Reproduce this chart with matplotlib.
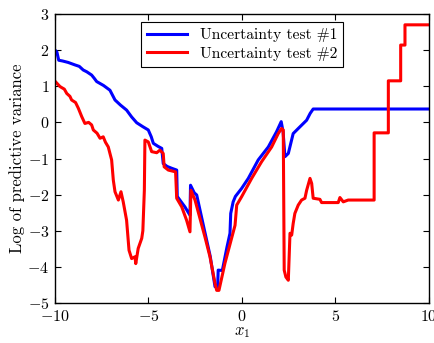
import matplotlib
matplotlib.use("Agg")
import matplotlib.pyplot as plt

plt.rcParams['font.family'] = 'serif'
plt.rcParams['font.serif'] = ['cmr10']
plt.rcParams['mathtext.fontset'] = 'cm'
plt.rcParams['axes.formatter.use_mathtext'] = True
plt.rcParams['axes.unicode_minus'] = True

# test #1: x1 and log predictive variance
x_test1 = [-10, -9.9, -9.8, -9.6, -9.3, -8.93, -8.7, -8.49, -8.3, -8.04, -7.9,
           -7.77, -7.4, -7.06, -6.79, -6.5, -6.17, -5.9, -5.63, -5.3, -5.01,
           -4.85, -4.74, -4.5, -4.29, -4.21, -4.0, -3.76, -3.49, -3.46, -3.25,
           -3.05, -2.78, -2.75, -2.55, -2.42, -2.34, -2.0, -1.7, -1.44, -1.30,
           -1.27, -1.05, -0.8, -0.64, -0.6, -0.47, -0.35, -0.02, 0.34, 0.87,
           1.41, 1.85, 2.10, 2.2, 2.3, 2.48, 2.74, 3.01, 3.46, 3.65,
           3.81, 10]
v_test1 = [2.0, 1.95, 1.72, 1.70, 1.66, 1.59, 1.55, 1.45, 1.40, 1.31, 1.22,
           1.13, 1.02, 0.89, 0.62, 0.48, 0.34, 0.15, -0.01, -0.12, -0.21,
           -0.4, -0.58, -0.66, -0.72, -1.14, -1.22, -1.27, -1.32, -2.05, -2.2,
           -2.34, -2.57, -1.74, -1.95, -2.01, -2.2, -3.0, -3.7, -4.55, -4.55,
           -4.09, -4.1, -3.45, -3.07, -2.52, -2.2, -2.05, -1.83, -1.55, -1.04,
           -0.68, -0.26, 0.02, -0.26, -0.95, -0.86, -0.31, -0.17, 0.06, 0.25,
           0.37, 0.37]

# test #2
x_test2 = [-10, -9.73, -9.5, -9.37, -9.2, -9.11, -8.9, -8.75, -8.57, -8.4, -8.2,
           -8.04, -7.95, -7.75, -7.59, -7.42, -7.3, -7.15, -6.97, -6.88, -6.79,
           -6.61, -6.47, -6.35, -6.17, -6.04, -5.9, -5.72, -5.68, -5.55, -5.36,
           -5.3, -5.22, -5.19, -5.01, -4.83, -4.56, -4.39, -4.21, -4.16, -3.94,
           -3.55, -3.49, -3.22, -2.96, -2.78, -2.73, -2.51, -1.98, -1.71, -1.44,
           -1.35, -1.23, -0.91, -0.37, -0.28, -0.02, 0.52, 1.05, 1.59, 1.94,
           2.12, 2.21, 2.26, 2.35, 2.48, 2.57, 2.66, 2.74, 2.83, 3.01,
           3.19, 3.37, 3.46, 3.64, 3.73, 3.81, 4.17, 4.26, 5.15, 5.24,
           5.42, 5.68, 7.07, 7.07, 7.83, 7.83, 8.49, 8.49, 8.72, 8.72, 10]
v_test2 = [1.14, 0.99, 0.92, 0.80, 0.72, 0.62, 0.55, 0.39, 0.16, -0.03, 0.0,
           -0.07, -0.21, -0.3, -0.44, -0.40, -0.55, -0.68, -1.04, -1.6, -1.92,
           -2.15, -1.92, -2.2, -2.71, -3.54, -3.77, -3.72, -3.91, -3.49, -3.21,
           -3.0, -1.88, -0.49, -0.54, -0.81, -0.84, -0.77, -0.86, -1.23, -1.32,
           -1.37, -2.1, -2.34, -2.71, -3.03, -1.88, -2.15, -3.17, -3.72, -4.46,
           -4.65, -4.65, -3.9, -2.85, -2.29, -2.06, -1.55, -1.09, -0.68, -0.31,
           -0.17, -0.21, -4.09, -4.28, -4.37, -3.07, -3.12, -2.8, -2.52, -2.29,
           -2.15, -2.1, -1.88, -1.55, -1.69, -2.1, -2.13, -2.22, -2.22, -2.08,
           -2.2, -2.15, -2.15, -0.29, -0.29, 1.15, 1.15, 2.14, 2.14, 2.7, 2.7]


def plot_variance():
    fig = plt.figure(figsize=(4.35, 3.43), dpi=100)
    ax = fig.add_axes([0.1264, 0.1166, 0.8596, 0.8426])

    ax.plot(x_test1, v_test1, color="blue", lw=2.2, label="Uncertainty test #1")
    ax.plot(x_test2, v_test2, color="red", lw=2.2, label="Uncertainty test #2")

    ax.set_xlim([-10, 10])
    ax.set_ylim([-5, 3])
    ax.set_xticks([-10, -5, 0, 5, 10])
    ax.set_yticks(range(-5, 4))
    ax.tick_params(direction="in", top=True, right=True, length=4,
                   labelsize=11.5, pad=4)
    for side in ax.spines.values():
        side.set_linewidth(1.0)

    ax.set_xlabel(r"$x_1$", fontsize=12, labelpad=1)
    ax.set_ylabel("Log of predictive variance", fontsize=12, labelpad=2)

    leg = ax.legend(loc="upper center", fontsize=11.2, fancybox=False,
                    framealpha=1, edgecolor="black", handlelength=2.6,
                    borderaxespad=0.5, labelspacing=0.3)
    leg.get_frame().set_linewidth(0.8)

    fig.savefig("out.png", dpi=100)


def main():
    plot_variance()


if __name__ == '__main__':
    main()
